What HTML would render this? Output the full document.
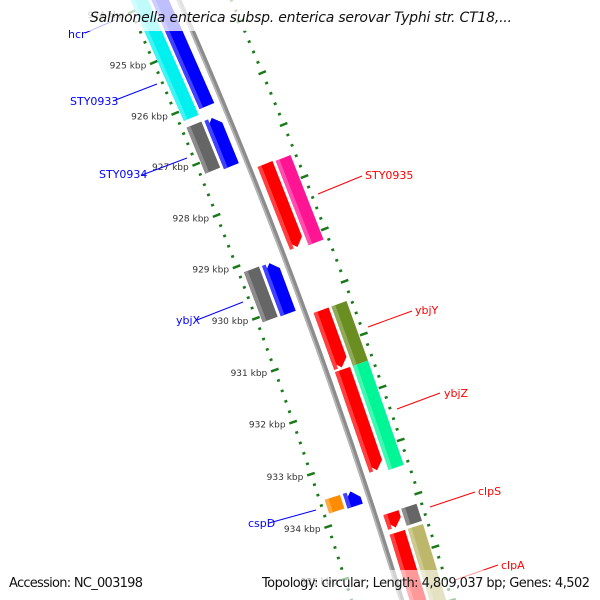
<!DOCTYPE html>
<html><head><meta charset="utf-8"><style>
html,body{margin:0;padding:0;background:#fff;width:600px;height:600px;overflow:hidden}
svg{display:block}
text{font-family:"DejaVu Sans","Liberation Sans",sans-serif}
</style></head><body>
<svg id="map" width="600" height="600" viewBox="0 0 600 600" xmlns="http://www.w3.org/2000/svg" overflow="hidden">
<g id="ticks"></g>
<g id="feats"></g>
<g id="labels"></g>
<rect x="80" y="0" width="440" height="31" fill="#fff" opacity="0.75"/>
<text x="90" y="22" font-size="14" font-style="italic" fill="#111" textLength="422">Salmonella enterica subsp. enterica serovar Typhi str. CT18,...</text>
<rect x="0" y="570" width="600" height="30" fill="#fff" opacity="0.6"/>
<text x="9" y="587" font-size="13" fill="#111" textLength="134">Accession: NC_003198</text>
<text x="590" y="587" font-size="13" fill="#111" text-anchor="end" textLength="328">Topology: circular; Length: 4,809,037 bp; Genes: 4,502</text>
</svg>
<script>
// genome positions in kbp
const majorTicks = [924,925,926,927,928,929,930,931,932,933,934,935,936];
const tickLabels = ["924 kbp","925 kbp","926 kbp","927 kbp","928 kbp","929 kbp","930 kbp","931 kbp","932 kbp","933 kbp","934 kbp","935 kbp","936 kbp"];
const featNames  = ["hcr","hcr-b","STY0934-a","STY0934-b","ybjX-a","ybjX-b","cspD-a","cspD-b","STY0935-a","STY0935-b","ybjY-a","ybjY-b","ybjZ-a","ybjZ-b","clpS-a","clpS-b","clpA-a","clpA-b"];
const featStart  = [922.0,922.0,926.32,926.33,929.14,929.15,933.52,933.52,927.46,927.48,930.27,930.27,931.40,931.40,934.11,934.10,934.48,934.48];
const featEnd    = [926.19,926.10,927.22,927.27,930.11,930.12,933.78,933.80,929.06,929.10,931.36,931.40,933.31,933.37,934.39,934.42,937.0,937.0];
const featStrand = [-1,-1,-1,-1,-1,-1,-1,-1,1,1,1,1,1,1,1,1,1,1];
const featSlot   = [2,1,2,1,2,1,2,1,1,2,1,2,1,2,1,2,1,2];
const featColor  = ["#00f0f0","#0000ff","#666666","#0000ff","#666666","#0000ff","#ff8c00","#0000ff","#ff0000","#ff1493","#ff0000","#6b8e23","#ff0000","#00f597","#ff0000","#666666","#ff0000","#bdb76b"];
const featArrow  = [1,1,0,1,0,1,0,1,1,0,1,0,1,0,1,0,1,0];

const NS="http://www.w3.org/2000/svg";
const CX=-4810, CY=2194, RB=5450, T0=-0.3648, K=0.0102;
function ang(bp){return T0+(bp-929)*K;}
function pt(bp,r){const a=ang(bp);return [CX+r*Math.cos(a),CY+r*Math.sin(a)];}
function mk(tag,attrs,parent){const e=document.createElementNS(NS,tag);for(const k in attrs)e.setAttribute(k,attrs[k]);parent.appendChild(e);return e;}

const tg=document.getElementById('ticks'), fg=document.getElementById('feats');

// backbone
(function(){
  const a=pt(922,RB), b=pt(937,RB), m=pt(929.5,RB);
  const p=mk('path',{d:`M${a[0]},${a[1]} Q${2*m[0]-(a[0]+b[0])/2},${2*m[1]-(a[1]+b[1])/2} ${b[0]},${b[1]}`,fill:'none',stroke:'#8c8c8c','stroke-width':5},tg);
  
  
  const a2=pt(922,RB-1.5), b2=pt(937,RB-1.5), m2=pt(929.5,RB-1.5);
  const p2=mk('path',{d:`M${a2[0]},${a2[1]} Q${2*m2[0]-(a2[0]+b2[0])/2},${2*m2[1]-(a2[1]+b2[1])/2} ${b2[0]},${b2[1]}`,fill:'none',stroke:'#b8b8b8','stroke-width':1.5},tg);
  
  
})();

// tick rings
const RL=RB-48, RR=RB+48;
for(let i=0;i<majorTicks.length;i++){
  const bp=majorTicks[i];
  const a=pt(bp,RL-4), b=pt(bp,RL+4);
  const t=mk('line',{x1:a[0],y1:a[1],x2:b[0],y2:b[1],stroke:'#1a7a1a','stroke-width':2.5},tg);
  
  
  const lp=pt(bp,RL-8);
  const tx=mk('text',{x:lp[0],y:lp[1]+3,'font-size':9,'text-anchor':'end',fill:'#333'},tg);
  tx.textContent=tickLabels[i];
  
  
  for(let j=1;j<5;j++){
    const c=pt(bp+j*0.2,RL-1.5), d=pt(bp+j*0.2,RL+1.5);
    const m=mk('line',{x1:c[0],y1:c[1],x2:d[0],y2:d[1],stroke:'#1a7a1a','stroke-width':2.5},tg);
    
    
  }
  const ob=bp-0.07;
  const e=pt(ob,RR-4), f=pt(ob,RR+4);
  const o=mk('line',{x1:e[0],y1:e[1],x2:f[0],y2:f[1],stroke:'#1a7a1a','stroke-width':2.5},tg);
  
  
  for(let j=1;j<5;j++){
    const c=pt(ob+j*0.2,RR-1.5), d=pt(ob+j*0.2,RR+1.5);
    const m=mk('line',{x1:c[0],y1:c[1],x2:d[0],y2:d[1],stroke:'#1a7a1a','stroke-width':2.5},tg);
    
    
  }
}

// features
function lighten(hex,f){const n=parseInt(hex.slice(1),16);let r=n>>16,g=(n>>8)&255,b=n&255;
  r=Math.round(r+(255-r)*f);g=Math.round(g+(255-g)*f);b=Math.round(b+(255-b)*f);return `rgb(${r},${g},${b})`;}
function featPoly(s,e,r1,r2,strand,arrow){
  const H=0.15, rm=(r1+r2)/2; let pts=[];
  if(!arrow){pts=[pt(s,r1),pt(e,r1),pt(e,r2),pt(s,r2)];}
  else if(strand>0){const h=Math.max(s,e-H);pts=[pt(s,r1),pt(h,r1),pt(e,rm),pt(h,r2),pt(s,r2)];}
  else{const h=Math.min(e,s+H);pts=[pt(h,r1),pt(s,rm),pt(h,r2),pt(e,r2),pt(e,r1)];}
  return pts.map(p=>p[0].toFixed(2)+','+p[1].toFixed(2)).join(' ');
}
for(let i=0;i<featNames.length;i++){
  const st=featStrand[i], sl=featSlot[i];
  let r1,r2;
  if(st>0){ r1= sl===1?RB+8:RB+27; r2=r1+16; }
  else { r2= sl===1?RB-8:RB-27; r1=r2-16; }
  const g=mk('g',{},fg);
  
  
  mk('polygon',{points:featPoly(featStart[i],featEnd[i],r1,r2,st,featArrow[i]),fill:featColor[i]},g);
  mk('polygon',{points:featPoly(featStart[i],featEnd[i],r1,r1+4,st,0),fill:lighten(featColor[i],0.25)},g);
}

// gene labels with leader lines
const lab=document.getElementById('labels');
const L=[["hcr",68,38,"#0000ff",85,33,115,20],["STY0933",70,105,"#0000ff",113,101,157,84],
["STY0934",99,178,"#0000ff",142,175,187,158],["ybjX",176,324,"#0000ff",197,320,243,302],
["cspD",248,527,"#0000ff",269,523,316,510],["STY0935",365,179,"#ff0000",318,194,362,176],
["ybjY",415,314,"#ff0000",368,327,412,311],["ybjZ",444,397,"#ff0000",397,409,440,393],
["clpS",478,495,"#ff0000",430,507,475,492],["clpA",501,569,"#ff0000",455,580,498,565]];
for(const l of L){
  const ln=mk('line',{x1:l[4],y1:l[5],x2:l[6],y2:l[7],stroke:l[3],'stroke-width':1},lab);
  
  
  const t=mk('text',{x:l[1],y:l[2],'font-size':11,fill:l[3]},lab);
  t.textContent=l[0];
  
  
}
</script>
</body></html>
